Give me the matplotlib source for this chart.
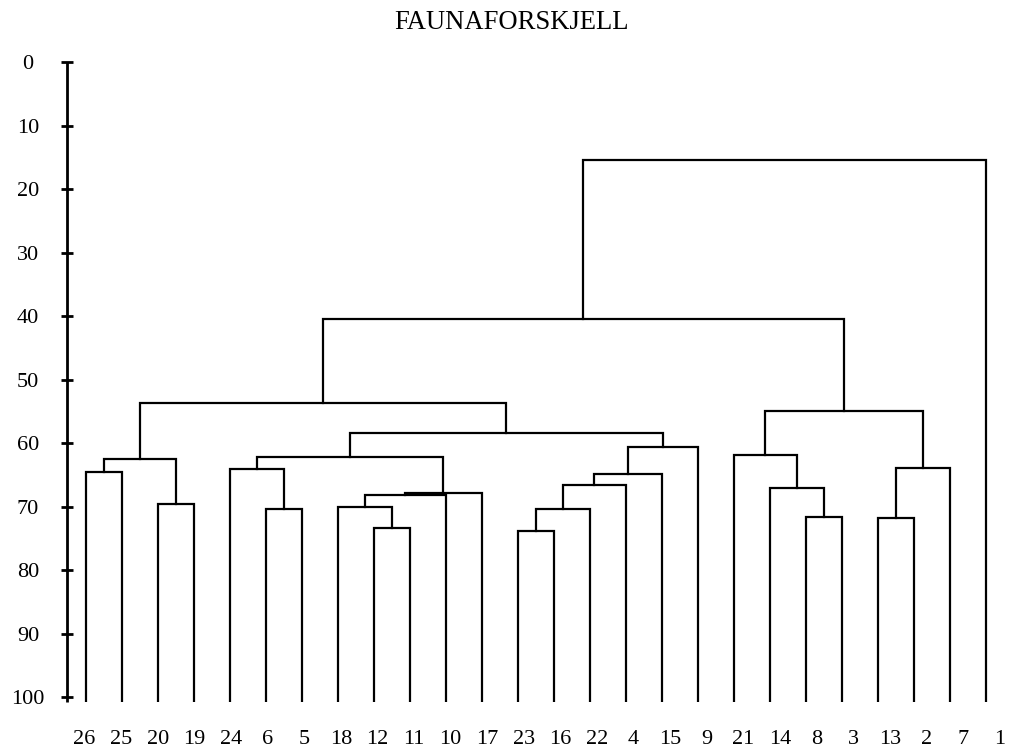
import matplotlib
matplotlib.use("Agg")
import matplotlib.pyplot as plt
import numpy as np

# --- DADOS ---
# rekkefølge på bladene fra venstre mot høyre
leaf_labels = ['26', '25', '20', '19', '24', '6', '5', '18', '12', '11', '10', '17',
               '23', '16', '22', '4', '15', '9', '21', '14', '8', '3', '13', '2', '7', '1']

# sammenslåinger: node id 0..25 er blader (etter posisjon), 26.. er klynger
merge_left = [12, 8, 22, 20, 5, 26, 7, 2, 32, 34, 19, 31, 37, 0, 4, 28,
              39, 40, 18, 38, 43, 42, 44, 47, 49]
merge_right = [13, 9, 23, 21, 6, 14, 27, 3, 10, 11, 29, 15, 16, 1, 30, 24,
               33, 35, 36, 17, 45, 46, 41, 48, 25]
merge_height = [73.8, 73.3, 71.7, 71.6, 70.3, 70.3, 70.0, 69.6, 68.2, 67.8, 67.1, 66.5, 64.9,
                64.5, 64.0, 63.9, 62.5, 62.2, 61.8, 60.6, 58.4, 53.7, 54.9, 40.45, 15.45]

y_ticks = [0, 10, 20, 30, 40, 50, 60, 70, 80, 90, 100]
title = "FAUNAFORSKJELL"

# --- LAYOUT ---
Y_BOTTOM = 100.7
LABEL_STRETCH = 1.0167
LW = 1.6

plt.rcParams['font.family'] = ['Liberation Serif', 'DejaVu Serif']

fig = plt.figure(figsize=(10.13, 7.51), dpi=100)
ax = fig.add_axes([0.0658, 0.0656, 0.925, 0.8514])

n = len(leaf_labels)
node_x = list(np.arange(n, dtype=float))
node_y = [Y_BOTTOM] * n

for a, b, h in zip(merge_left, merge_right, merge_height):
    xa, xb = node_x[a], node_x[b]
    ya, yb = node_y[a], node_y[b]
    ax.plot([xa, xa, xb, xb], [ya, h, h, yb], color='black', lw=LW,
            solid_joinstyle='miter', solid_capstyle='projecting')
    node_x.append((xa + xb) / 2)
    node_y.append(h)

ax.set_xlim(-0.528, 25.5)
ax.set_ylim(Y_BOTTOM, 0)

for side in ['top', 'right', 'bottom']:
    ax.spines[side].set_visible(False)
ax.spines['left'].set_linewidth(2)
ax.spines['left'].set_capstyle('butt')

ax.set_xticks([])
ax.set_yticks(y_ticks)
ax.set_yticklabels([str(v) for v in y_ticks])
ax.tick_params(axis='y', direction='inout', length=8.9, width=2, pad=23.4, labelsize=16)
for lab in ax.get_yticklabels():
    lab.set_horizontalalignment('center')

# bladetiketter under aksen
for i, lab in enumerate(leaf_labels):
    ax.text(i * LABEL_STRETCH - 0.03, -0.066, lab, transform=ax.get_xaxis_transform(),
            ha='center', va='baseline', fontsize=16)

fig.text(0.505, 0.961, title, ha='center', va='baseline', fontsize=19.2)

fig.savefig("out.png", dpi=100)
